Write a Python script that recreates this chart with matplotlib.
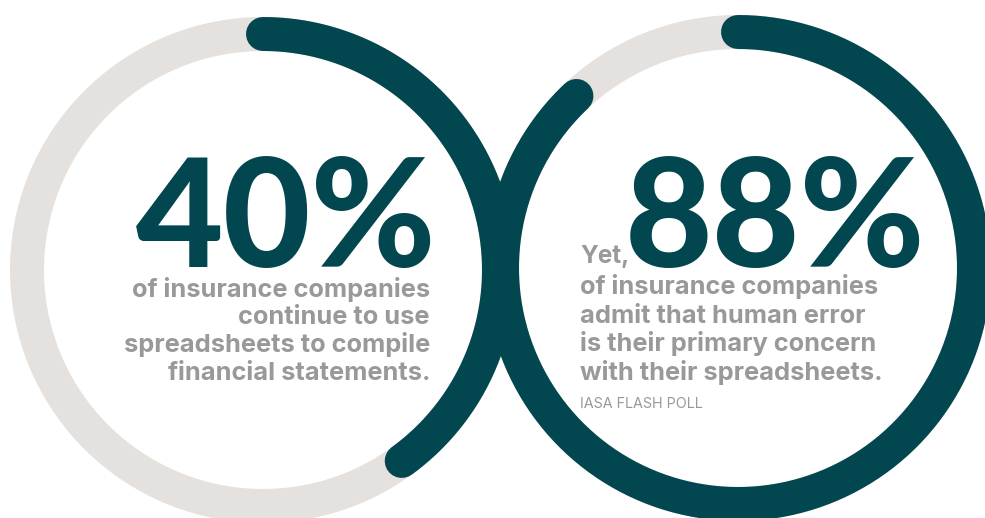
import matplotlib.pyplot as plt
import numpy as np

# stats shown as rings
percents = [40, 88]
big_labels = ['40%', '88%']
left_lines = ['of insurance companies', 'continue to use',
              'spreadsheets to compile', 'financial statements.']
right_lines = ['of insurance companies', 'admit that human error',
               'is their primary concern', 'with their spreadsheets.']
source = 'IASA FLASH POLL'

teal = '#02464F'
ring_gray = '#E4E1DE'
text_gray = '#999999'

fig = plt.figure(figsize=(9.85, 5.18), dpi=100)
ax = fig.add_axes([0, 0, 1, 1])
ax.set_xlim(0, 985)
ax.set_ylim(518, 0)
ax.axis('off')

centers = [(263, 270), (738, 268)]
radius = 236
lw = 34 * 72 / 100  # ~34 px

for (cx, cy), p in zip(centers, percents):
    t = np.linspace(0, 2 * np.pi, 400)
    ax.plot(cx + radius * np.cos(t), cy + radius * np.sin(t), color=ring_gray, lw=lw, zorder=1)
for (cx, cy), p in zip(centers, percents):
    # start at top, go clockwise
    ang = np.radians(90 - np.linspace(0, 360 * p / 100, 300))
    ax.plot(cx + radius * np.cos(ang), cy - radius * np.sin(ang), color=teal, lw=lw,
            solid_capstyle='round', zorder=2)

big_fam = ['Lato', 'DejaVu Sans']
fam = ['Inter', 'DejaVu Sans']
body = 18.3

# left block
ax.text(437, 267, big_labels[0], ha='right', va='baseline', fontsize=109,
        color=teal, family=big_fam, weight='black')
for i, line in enumerate(left_lines):
    ax.text(430, 297 + i * 27.5, line, ha='right', va='baseline', fontsize=body,
            color=text_gray, family=fam, weight='bold')

# right block
ax.text(580, 263, 'Yet,', ha='left', va='baseline', fontsize=17.5,
        color=text_gray, family=fam, weight='bold')
ax.text(925, 267, big_labels[1], ha='right', va='baseline', fontsize=109,
        color=teal, family=big_fam, weight='black')
for i, line in enumerate(right_lines):
    ax.text(580, 294 + i * 28.7, line, ha='left', va='baseline', fontsize=body,
            color=text_gray, family=fam, weight='bold')
ax.text(580, 408, source, ha='left', va='baseline', fontsize=10.3,
        color=text_gray, family=fam, weight='normal')

fig.savefig('out.png', dpi=100)
